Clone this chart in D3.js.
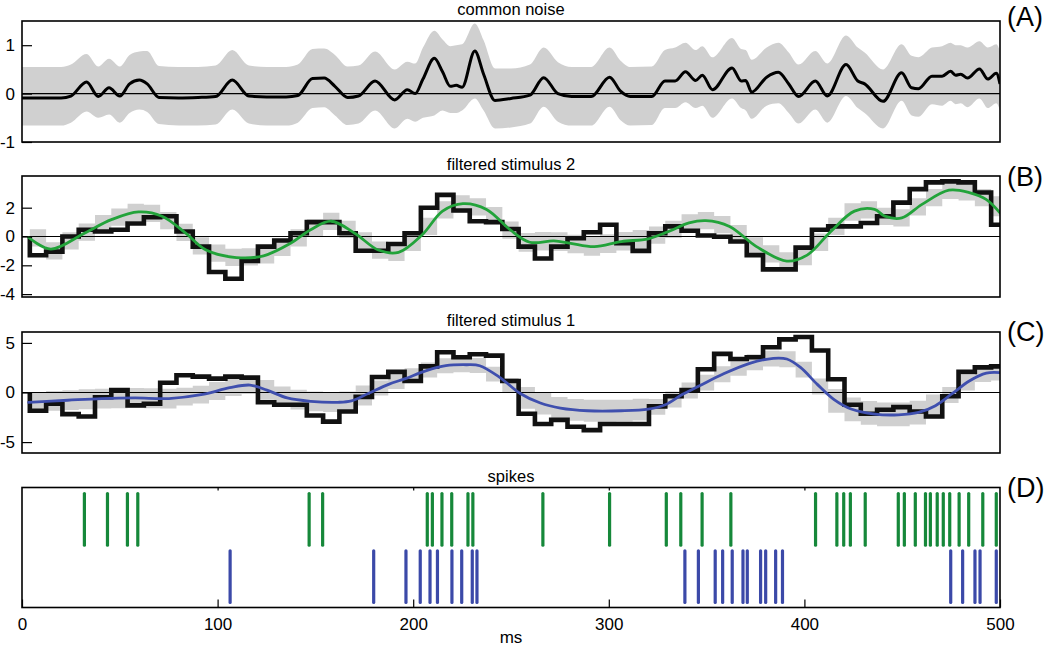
<!DOCTYPE html>
<html>
<head>
<meta charset="utf-8">
<script src="https://cdn.jsdelivr.net/npm/d3@7"></script>
<style>
  body { margin: 0; background: #fff; }
  text { font-family: "Liberation Sans", Arial, Helvetica, sans-serif; fill: #000; }
</style>
</head>
<body>
<svg id="chart" width="1050" height="646"></svg>
<script>
// ---- panel A: common noise (time in ms, mean and band edges) ----
var noiseT = [0, 10, 20, 25, 33, 39, 44.5, 50, 55, 60, 64, 70, 80, 90, 99, 107.5, 116, 125, 135, 141,
  148.5, 154.5, 160, 166.5, 172, 180.5, 190.5, 197, 201, 205, 210.8, 215, 219, 222, 225, 231.5, 236, 241.8, 250, 259.7,
  266.7, 274, 281, 291, 300.4, 306, 311, 322, 328.7, 333.9, 339.2, 344.4, 347.8, 353, 363, 367.7, 370, 373, 380.7, 386.7,
  392, 397, 405.6, 411.7, 421.3, 427.3, 430.8, 440.2, 449.7, 454.8, 458.3, 465.2, 470.4, 474.7, 477.3, 479.9, 483.4, 489.5, 493.8, 498.1, 500];
var noiseMean = [-0.09, -0.09, -0.09, -0.05, 0.24, -0.06, 0.12, -0.05, 0.2, 0.28, 0.2, -0.08, -0.09, -0.08, -0.06, 0.28, -0.05, -0.07, -0.07, -0.04,
  0.31, 0.32, 0.15, -0.08, -0.05, 0.26, -0.13, 0.08, 0.0, 0.3, 0.73, 0.45, 0.15, 0.17, 0.13, 0.88, 0.4, -0.14, -0.1, -0.03,
  0.33, 0.0, -0.06, -0.06, 0.34, 0.05, -0.06, -0.06, 0.26, 0.26, 0.45, 0.27, 0.38, 0.08, 0.53, 0.26, 0.27, 0.03, 0.34, 0.44,
  0.2, -0.06, 0.26, -0.05, 0.6, 0.26, 0.2, -0.16, 0.43, 0.12, 0.1, 0.36, 0.36, 0.46, 0.38, 0.4, 0.32, 0.51, 0.3, 0.42, 0.2];
var noiseUpper = [0.55, 0.55, 0.55, 0.6, 0.82, 0.56, 0.72, 0.56, 0.8, 0.87, 0.88, 0.57, 0.55, 0.55, 0.58, 0.9, 0.58, 0.55, 0.55, 0.6,
  0.92, 0.93, 0.8, 0.56, 0.58, 0.87, 0.5, 0.66, 0.62, 0.95, 1.3, 1.12, 0.98, 1.0, 1.02, 1.45, 1.1, 0.52, 0.52, 0.6,
  0.95, 0.65, 0.55, 0.55, 0.95, 0.68, 0.55, 0.56, 0.9, 0.95, 1.05, 0.9, 0.98, 0.75, 1.15, 0.92, 0.9, 0.7, 0.95, 1.05,
  0.85, 0.6, 0.88, 0.62, 1.2, 0.95, 0.85, 0.5, 1.02, 0.78, 0.75, 0.95, 0.98, 1.05, 1.0, 1.0, 0.95, 1.08, 0.95, 1.02, 0.88];
var noiseLower = [-0.66, -0.66, -0.66, -0.6, -0.37, -0.5, -0.43, -0.6, -0.4, -0.33, -0.38, -0.63, -0.66, -0.66, -0.64, -0.33, -0.62, -0.66, -0.66, -0.6,
  -0.3, -0.28, -0.45, -0.65, -0.62, -0.35, -0.72, -0.52, -0.58, -0.5, -0.45, -0.35, -0.4, -0.4, -0.35, -0.1, -0.35, -0.72, -0.7, -0.62,
  -0.27, -0.58, -0.66, -0.66, -0.27, -0.55, -0.66, -0.65, -0.3, -0.3, -0.18, -0.3, -0.25, -0.5, -0.1, -0.3, -0.35, -0.52, -0.25, -0.2,
  -0.4, -0.62, -0.33, -0.6, -0.05, -0.3, -0.4, -0.72, -0.15, -0.45, -0.48, -0.22, -0.25, -0.15, -0.22, -0.2, -0.28, -0.1, -0.3, -0.2, -0.35];

// ---- stimulus bins: 60 bins starting at 4 ms, 8.33 ms wide ----
var binStart = 4, binWidth = 8.33;

// panel B: filtered stimulus 2
var stim2Steps = [-1.3, -1.05, 0.0, 0.47, 0.35, 0.47, 0.9, 1.34, 1.41, 0.35,
  -0.7, -2.46, -2.93, -1.69, -0.7, -0.28, 0.23, 1.0, 1.0, 0.23,
  -0.99, -0.99, -0.52, 0.23, 2.0, 2.89, 1.8, 1.06, 1.0, 0.52,
  -0.7, -1.53, -0.7, -0.12, 0.3, 0.82, -0.47, -1.0, 0.23, 0.7,
  0.4, 0.07, -0.02, -0.35, -1.29, -2.28, -2.28, -0.77, 0.47, 0.7,
  0.7, 0.94, 1.41, 2.35, 3.29, 3.76, 3.83, 3.76, 3.05, 0.82];
var stim2BandMid = [-0.1, -1.0, -0.3, 0.3, 0.9, 1.35, 1.68, 1.6, 1.1, 0.28,
  -0.65, -1.15, -1.45, -1.42, -1.28, -0.75, -0.1, 0.6, 1.05, 0.5,
  -0.3, -0.95, -1.1, -0.4, 0.7, 1.85, 2.27, 2.05, 1.45, 0.45,
  -0.4, -0.33, -0.35, -0.52, -0.68, -0.5, -0.33, -0.2, 0.1, 0.5,
  0.95, 1.1, 0.82, 0.2, -0.65, -1.2, -1.7, -1.4, -0.4, 0.7,
  1.7, 1.85, 1.4, 1.3, 2.05, 2.7, 3.2, 3.1, 2.7, 2.1];
var stim2BandHalf = [0.6, 0.6, 0.6, 0.6, 0.6, 0.6, 0.6, 0.6, 0.6, 0.6,
  0.6, 0.6, 0.6, 0.6, 0.6, 0.6, 0.6, 0.6, 0.6, 0.6,
  0.6, 0.6, 0.6, 0.6, 0.6, 0.6, 0.6, 0.6, 0.6, 0.6,
  0.65, 0.65, 0.65, 0.65, 0.65, 0.65, 0.65, 0.65, 0.6, 0.6,
  0.6, 0.6, 0.6, 0.6, 0.6, 0.6, 0.6, 0.6, 0.6, 0.6,
  0.6, 0.6, 0.6, 0.6, 0.6, 0.6, 0.6, 0.6, 0.6, 0.7];
var stim2FitT = [3.4, 14.7, 31.9, 45.7, 59.6, 71.6, 83.7, 94.1, 109.6, 123.5, 137.3, 147.6, 158, 170.1, 182.2, 192.5, 204.6, 215, 225.4, 237.5,
  249.5, 259.6, 271.9, 280.5, 292.6, 306.4, 320.2, 330.6, 341, 349.6, 361.7, 375.5, 391, 401.4, 413.5, 425.6, 435.9, 441.1, 449.8, 460.1,
  473.9, 484.3, 492.9, 500];
var stim2FitV = [-0.07, -0.87, 0.23, 1.17, 1.71, 1.41, 0.23, -0.94, -1.46, -1.34, -0.47, 0.47, 1.06, 0.23, -0.94, -1.1, 0.12, 1.76, 2.28, 1.88,
  0.47, -0.4, -0.3, -0.47, -0.7, -0.35, -0.16, 0.35, 0.94, 1.1, 0.7, -0.7, -1.71, -1.29, 0.35, 1.76, 1.88, 1.41, 1.29, 2.23,
  3.22, 3.05, 2.58, 1.64];

// panel C: filtered stimulus 1
var stim1Steps = [-1.84, -1.13, -2.18, -2.42, -0.48, 0.24, -1.3, -1.13, 0.99, 1.74,
  1.6, 1.4, 1.6, 1.5, -0.99, -1.23, -1.23, -2.32, -2.94, -1.91,
  -0.44, 1.57, 2.08, 1.16, 2.63, 4.06, 3.55, 3.86, 3.72, 1.16,
  -2.15, -3.17, -2.76, -3.45, -3.79, -3.17, -3.17, -3.17, -1.4, -0.38,
  0.24, 2.35, 3.89, 3.38, 3.55, 4.57, 5.36, 5.6, 4.23, 1.33,
  -1.23, -2.15, -1.74, -1.47, -1.91, -2.42, -0.38, 2.08, 2.53, 2.63];
var stim1BandMid = [-0.94, -0.85, -0.77, -0.68, -0.61, -0.58, -0.55, -0.58, -0.61, -0.42,
  -0.22, 0.15, 0.55, 0.75, 0.26, -0.4, -0.72, -0.9, -0.97, -0.89,
  -0.3, 0.45, 1.1, 1.7, 2.27, 2.7, 2.78, 2.72, 1.85, 0.7,
  -0.55, -1.13, -1.55, -1.75, -1.84, -1.84, -1.83, -1.72, -1.45, -0.7,
  0.2, 1.0, 1.84, 2.5, 3.05, 3.42, 3.35, 2.3, 0.6, -0.85,
  -1.7, -2.05, -2.2, -2.2, -2.02, -1.4, -0.25, 1.0, 1.85, 2.0];
var stim1BandHalf = [1.0, 1.0, 1.0, 1.0, 1.0, 1.0, 1.0, 1.0, 1.0, 0.9,
  0.9, 0.9, 0.9, 0.9, 1.0, 1.0, 1.0, 1.0, 1.0, 1.0,
  1.0, 0.75, 0.75, 0.75, 0.75, 0.75, 0.75, 0.75, 0.75, 0.75,
  1.1, 1.1, 1.1, 1.1, 1.1, 1.1, 1.1, 1.1, 0.8, 0.8,
  0.8, 0.8, 0.8, 0.8, 0.8, 0.8, 0.8, 0.8, 0.8, 1.2,
  1.2, 1.2, 1.2, 1.2, 1.2, 1.2, 0.8, 0.8, 0.8, 0.8];
var stim1FitT = [3.4, 23.3, 40.6, 57.8, 75.1, 92.4, 106.2, 116.6, 125.2, 135.6, 147.6, 161.5, 168.4, 177, 187.4, 196, 206.4, 216.7, 227.1, 234,
  244.4, 254.7, 265, 275.3, 289.1, 306.4, 320.2, 328.9, 337.5, 346.1, 358.2, 372, 384.1, 391, 398, 406.6, 415.2, 423.9, 436, 448,
  458.4, 467, 475.7, 484.3, 493, 500];
var stim1FitV = [-0.99, -0.78, -0.61, -0.55, -0.61, -0.2, 0.48, 0.75, 0.24, -0.55, -0.89, -0.99, -0.85, -0.1, 0.82, 1.4, 2.18, 2.7, 2.8, 2.7,
  1.5, -0.1, -1.06, -1.57, -1.84, -1.84, -1.67, -1.23, -0.2, 0.65, 1.84, 2.94, 3.45, 3.38, 2.53, 0.82, -0.72, -1.67, -2.18, -2.25,
  -2.01, -1.33, -0.1, 1.16, 1.95, 2.0];

// panel D: spike times (ms)
var spikes2 = [31.9, 43.7, 53.9, 59.2, 146.8, 153.7, 207.2, 209.8, 214.7, 219.7, 228, 230.5, 266.3, 300.4, 329.4, 336.8, 347.7, 362.4,
  405.7, 416.6, 420.1, 423.5, 431.1, 448, 451.1, 456.7, 461.9, 464.4, 467.9, 471, 474.3, 479.1, 484, 491.2, 498.1];
var spikes1 = [106.4, 179.8, 196.3, 203.6, 208.6, 212.4, 219.8, 224.8, 230.2, 232.6, 338.9, 345.8, 354.4, 358.2, 363.1, 368.6, 370.8,
  377.6, 380.2, 385.3, 388.8, 474.8, 480.9, 487.2, 489.8, 498.1];

var xTicks = [0, 100, 200, 300, 400, 500];

// ---- layout ----
var FONT = '"Liberation Sans", Arial, Helvetica, sans-serif';
var GRAY = '#d0d0d0';
var GREEN = '#22a33a';
var BLUE = '#3f4fae';
var SPIKE_GREEN = '#16883a';
var SPIKE_BLUE = '#3b49a8';

var svg = d3.select('#chart');
var x = d3.scaleLinear().domain([0, 500]).range([22, 1000]);

function makePanel(id, top, bottom, domain, ticks, title, label, labelY) {
    var g = svg.append('g').attr('class', 'panel-' + id);
    var y = domain ? d3.scaleLinear().domain(domain).range([bottom, top]) : null;

    g.append('clipPath').attr('id', 'clip-' + id)
        .append('rect')
        .attr('x', x(0)).attr('y', top)
        .attr('width', x(500) - x(0)).attr('height', bottom - top);

    var plot = g.append('g').attr('clip-path', 'url(#clip-' + id + ')');

    g.append('text')
        .attr('x', (x(0) + x(500)) / 2).attr('y', top - 6)
        .attr('text-anchor', 'middle')
        .style('font-size', '16.5px')
        .text(title);

    g.append('text')
        .attr('x', 1007).attr('y', labelY)
        .style('font-size', '27px')
        .text(label);

    return {g: g, plot: plot, y: y, top: top, bottom: bottom, ticks: ticks};
}

function finishPanel(p) {
    if (p.y) {
        var axis = d3.axisLeft(p.y)
            .tickValues(p.ticks)
            .tickSizeInner(-10).tickSizeOuter(0).tickPadding(7)
            .tickFormat(function(d) { return String(d); });
        var ag = p.g.append('g').attr('transform', 'translate(' + x(0) + ',0)').call(axis);
        ag.select('.domain').remove();
        ag.selectAll('line').attr('stroke', '#000').attr('stroke-width', 1.2);
        ag.selectAll('text').style('font-family', FONT).style('font-size', '17px');
    }
    p.g.append('rect')
        .attr('x', x(0)).attr('y', p.top)
        .attr('width', x(500) - x(0)).attr('height', p.bottom - p.top)
        .attr('fill', 'none').attr('stroke', '#000').attr('stroke-width', 1.6);
}

function zeroLine(p) {
    p.plot.append('line')
        .attr('x1', x(0)).attr('x2', x(500))
        .attr('y1', p.y(0)).attr('y2', p.y(0))
        .attr('stroke', '#000').attr('stroke-width', 1.1);
}

// stimulus bins -> step points
function binTime(k) { return binStart + binWidth * k; }

function drawStimulus(p, steps, mid, half, fitT, fitV, color) {
    var y = p.y;
    var bins = mid.map(function(m, k) { return {t: binTime(k), lo: m - half[k], hi: m + half[k]}; });
    bins.push({t: 500, lo: bins[bins.length - 1].lo, hi: bins[bins.length - 1].hi});

    p.plot.append('path')
        .datum(bins)
        .attr('fill', GRAY)
        .attr('d', d3.area()
            .curve(d3.curveStepAfter)
            .x(function(d) { return x(d.t); })
            .y0(function(d) { return y(d.lo); })
            .y1(function(d) { return y(d.hi); }));

    zeroLine(p);

    var pts = [{t: binStart, v: 0}];
    steps.forEach(function(v, k) { pts.push({t: binTime(k), v: v}); });
    pts.push({t: 500, v: steps[steps.length - 1]});

    p.plot.append('path')
        .datum(pts)
        .attr('fill', 'none').attr('stroke', '#111').attr('stroke-width', 4.6)
        .attr('stroke-linejoin', 'miter')
        .attr('d', d3.line()
            .curve(d3.curveStepAfter)
            .x(function(d) { return x(d.t); })
            .y(function(d) { return y(d.v); }));

    p.plot.append('path')
        .datum(fitT.map(function(t, i) { return [t, fitV[i]]; }))
        .attr('fill', 'none').attr('stroke', color).attr('stroke-width', 2.8)
        .attr('stroke-linecap', 'round')
        .attr('d', d3.line()
            .curve(d3.curveCatmullRom.alpha(0.5))
            .x(function(d) { return x(d[0]); })
            .y(function(d) { return y(d[1]); }));
}

// ---- (A) common noise ----
var pA = makePanel('A', 21, 142, [-1, 1.5], [-1, 0, 1], 'common noise', '(A)', 26);
var noise = noiseT.map(function(t, i) { return {t: t, m: noiseMean[i], hi: noiseUpper[i], lo: noiseLower[i]}; });
pA.plot.append('path')
    .datum(noise)
    .attr('fill', GRAY)
    .attr('d', d3.area()
        .curve(d3.curveMonotoneX)
        .x(function(d) { return x(d.t); })
        .y0(function(d) { return pA.y(d.lo); })
        .y1(function(d) { return pA.y(d.hi); }));
zeroLine(pA);
pA.plot.append('path')
    .datum(noise)
    .attr('fill', 'none').attr('stroke', '#000').attr('stroke-width', 3)
    .attr('stroke-linejoin', 'round')
    .attr('d', d3.line()
        .curve(d3.curveMonotoneX)
        .x(function(d) { return x(d.t); })
        .y(function(d) { return pA.y(d.m); }));
finishPanel(pA);

// ---- (B) filtered stimulus 2 ----
var pB = makePanel('B', 176, 297, [-4.2, 4.2], [-4, -2, 0, 2], 'filtered stimulus 2', '(B)', 186);
drawStimulus(pB, stim2Steps, stim2BandMid, stim2BandHalf, stim2FitT, stim2FitV, GREEN);
finishPanel(pB);

// ---- (C) filtered stimulus 1 ----
var pC = makePanel('C', 332, 453, [-6.1, 6.1], [-5, 0, 5], 'filtered stimulus 1', '(C)', 341);
drawStimulus(pC, stim1Steps, stim1BandMid, stim1BandHalf, stim1FitT, stim1FitV, BLUE);
finishPanel(pC);

// ---- (D) spikes ----
var pD = makePanel('D', 487.5, 607.5, null, null, 'spikes', '(D)', 497);
var rows = d3.scaleBand().domain(['stim2', 'stim1']).range([493.5, 602.5]).paddingInner(0.1);
[{key: 'stim2', times: spikes2, color: SPIKE_GREEN}, {key: 'stim1', times: spikes1, color: SPIKE_BLUE}].forEach(function(r) {
    pD.plot.selectAll('line.' + r.key)
        .data(r.times)
        .enter().append('line')
        .attr('class', r.key)
        .attr('x1', function(d) { return x(d); }).attr('x2', function(d) { return x(d); })
        .attr('y1', rows(r.key)).attr('y2', rows(r.key) + rows.bandwidth())
        .attr('stroke', r.color).attr('stroke-width', 3.2).attr('stroke-linecap', 'round');
});
finishPanel(pD);

var bottomAxis = d3.axisBottom(x).tickValues(xTicks).tickSizeInner(-8).tickSizeOuter(0).tickPadding(10)
    .tickFormat(function(d) { return String(d); });
var bx = pD.g.append('g').attr('transform', 'translate(0,' + pD.bottom + ')').call(bottomAxis);
bx.select('.domain').remove();
bx.selectAll('line').attr('stroke', '#000').attr('stroke-width', 1.2);
bx.selectAll('text').style('font-family', FONT).style('font-size', '17px');

var topAxis = d3.axisTop(x).tickValues(xTicks.slice(1, -1)).tickSizeInner(-3).tickSizeOuter(0).tickFormat('');
var tx = pD.g.append('g').attr('transform', 'translate(0,' + pD.top + ')').call(topAxis);
tx.select('.domain').remove();
tx.selectAll('line').attr('stroke', '#000').attr('stroke-width', 1.2);

svg.append('text')
    .attr('x', (x(0) + x(500)) / 2).attr('y', 643)
    .attr('text-anchor', 'middle')
    .style('font-size', '17px')
    .text('ms');
</script>
</body>
</html>
